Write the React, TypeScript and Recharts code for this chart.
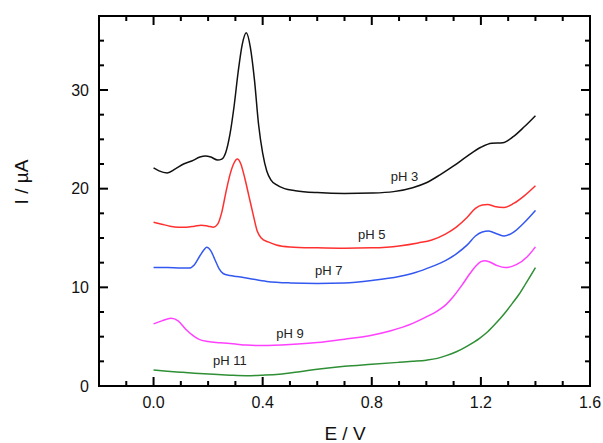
import React from "react";
import { LineChart, Line, XAxis, YAxis, ReferenceDot } from "recharts";

// plot frame in page pixels (chart sits at the page's top-left corner)
const TOP = 16;
const BOTTOM = 386;
const LEFT = 99;
const RIGHT = 590;

const xTicks = [-0.2, -0.1, 0, 0.1, 0.2, 0.3, 0.4, 0.5, 0.6, 0.7, 0.8, 0.9, 1.0, 1.1, 1.2, 1.3, 1.4, 1.5, 1.6];
const xMajor = [0, 0.4, 0.8, 1.2, 1.6];
const yTicks = [0, 2.5, 5, 7.5, 10, 12.5, 15, 17.5, 20, 22.5, 25, 27.5, 30, 32.5, 35, 37.5];
const yMajor = [0, 10, 20, 30];

// pH 3
const eBlack = [0, 0.02, 0.05, 0.08, 0.11, 0.14, 0.17, 0.19, 0.21, 0.235, 0.25, 0.265, 0.28, 0.295, 0.31, 0.325, 0.34, 0.355, 0.37, 0.385, 0.4, 0.415, 0.43, 0.45, 0.48, 0.52, 0.6, 0.7, 0.8, 0.88, 0.95, 1.0, 1.05, 1.1, 1.15, 1.2, 1.24, 1.28, 1.32, 1.36, 1.4];
const iBlack = [22.1, 21.8, 21.6, 22.0, 22.5, 22.8, 23.2, 23.3, 23.2, 22.9, 23.0, 23.7, 25.5, 28.3, 31.8, 34.6, 35.8, 34.3, 31.0, 26.5, 23.6, 21.8, 20.9, 20.4, 20.0, 19.8, 19.6, 19.5, 19.55, 19.7, 20.1, 20.6, 21.4, 22.3, 23.3, 24.2, 24.6, 24.65, 25.3, 26.3, 27.4];

// pH 5
const eRed = [0, 0.03, 0.06, 0.09, 0.12, 0.15, 0.175, 0.2, 0.22, 0.235, 0.25, 0.265, 0.28, 0.295, 0.307, 0.32, 0.335, 0.35, 0.365, 0.38, 0.395, 0.42, 0.45, 0.5, 0.6, 0.7, 0.8, 0.9, 0.97, 1.02, 1.07, 1.11, 1.15, 1.18, 1.205, 1.225, 1.25, 1.285, 1.32, 1.36, 1.4];
const iRed = [16.6, 16.4, 16.2, 16.1, 16.1, 16.2, 16.3, 16.2, 16.1, 16.4, 17.6, 19.6, 21.4, 22.6, 23.0, 22.5, 21.0, 19.2, 17.4, 15.7, 15.0, 14.6, 14.3, 14.1, 14.0, 13.95, 14.0, 14.2, 14.5, 14.8, 15.4, 16.1, 17.1, 18.0, 18.35, 18.4, 18.2, 18.1, 18.5, 19.3, 20.3];

// pH 7
const eBlue = [0, 0.05, 0.1, 0.13, 0.15, 0.17, 0.185, 0.195, 0.21, 0.225, 0.24, 0.255, 0.28, 0.305, 0.35, 0.415, 0.5, 0.6, 0.7, 0.8, 0.9, 0.96, 1.02, 1.07, 1.11, 1.15, 1.18, 1.205, 1.228, 1.26, 1.285, 1.32, 1.36, 1.4];
const iBlue = [12.0, 12.0, 11.95, 11.95, 12.3, 13.2, 13.8, 14.05, 13.7, 12.8, 11.9, 11.4, 11.2, 11.1, 10.9, 10.6, 10.45, 10.4, 10.45, 10.7, 11.1, 11.5, 12.1, 12.7, 13.4, 14.3, 15.2, 15.6, 15.7, 15.4, 15.2, 15.6, 16.6, 17.8];

// pH 9
const eMagenta = [0, 0.03, 0.064, 0.09, 0.12, 0.145, 0.165, 0.2, 0.244, 0.3, 0.34, 0.4, 0.5, 0.6, 0.7, 0.8, 0.87, 0.95, 1.0, 1.04, 1.07, 1.1, 1.13, 1.16, 1.18, 1.2, 1.215, 1.23, 1.26, 1.29, 1.33, 1.37, 1.4];
const iMagenta = [6.3, 6.6, 6.86, 6.6, 5.7, 5.1, 4.75, 4.5, 4.39, 4.25, 4.15, 4.1, 4.2, 4.4, 4.75, 5.15, 5.6, 6.35, 7.0, 7.6, 8.2, 9.1, 10.2, 11.4, 12.1, 12.6, 12.7, 12.6, 12.2, 12.0, 12.3, 13.1, 14.1];

// pH 11
const eGreen = [0, 0.05, 0.1, 0.15, 0.22, 0.28, 0.34, 0.4, 0.46, 0.536, 0.6, 0.7, 0.8, 0.9, 0.95, 1.0, 1.04, 1.07, 1.11, 1.15, 1.195, 1.225, 1.255, 1.285, 1.316, 1.34, 1.365, 1.4];
const iGreen = [1.62, 1.5, 1.4, 1.3, 1.18, 1.1, 1.05, 1.1, 1.19, 1.45, 1.7, 2.0, 2.2, 2.4, 2.5, 2.62, 2.8, 3.05, 3.47, 4.05, 4.83, 5.5, 6.35, 7.3, 8.4, 9.3, 10.4, 12.0];

const series = [
  { name: "pH 3", e: eBlack, i: iBlack, color: "#111111", lx: 0.92, ly: 21.2 },
  { name: "pH 5", e: eRed, i: iRed, color: "#ff3030", lx: 0.8, ly: 15.4 },
  { name: "pH 7", e: eBlue, i: iBlue, color: "#3358f0", lx: 0.642, ly: 11.75 },
  { name: "pH 9", e: eMagenta, i: iMagenta, color: "#ff40ff", lx: 0.5, ly: 5.37 },
  { name: "pH 11", e: eGreen, i: iGreen, color: "#2f8f35", lx: 0.28, ly: 2.63 },
];

const isIn = (list: number[], v: number) => list.some((m) => Math.abs(m - v) < 1e-6);

// inward ticks on bottom and top edges, label only on majors
const XTick = (props: any) => {
  const { x, payload } = props;
  const v = payload.value;
  const major = isIn(xMajor, v);
  const len = major ? 9 : 5;
  return (
    <g>
      <rect x={x - 1} y={BOTTOM - len} width={2} height={len} fill="#000" />
      <rect x={x - 1} y={TOP} width={2} height={len} fill="#000" />
      {major && (
        <text x={x} y={BOTTOM + 22} textAnchor="middle" fontSize={16} fill="#111">
          {v.toFixed(1)}
        </text>
      )}
    </g>
  );
};

// inward ticks on left and right edges
const YTick = (props: any) => {
  const { y, payload } = props;
  const v = payload.value;
  const major = isIn(yMajor, v);
  const len = major ? 9 : 5;
  return (
    <g>
      <rect x={LEFT} y={y - 1} width={len} height={2} fill="#000" />
      <rect x={RIGHT - len} y={y - 1} width={len} height={2} fill="#000" />
      {major && (
        <text x={LEFT - 10} y={y} dy="0.36em" textAnchor="end" fontSize={16} fill="#111">
          {v}
        </text>
      )}
    </g>
  );
};

const App = () => {
  return (
    <div
      style={{
        position: "absolute",
        left: 0,
        top: 0,
        width: 603,
        height: 443,
        overflow: "hidden",
        fontFamily: "'Liberation Sans', Arial, sans-serif",
      }}
    >
      <LineChart width={603} height={443} margin={{ top: TOP, right: 603 - RIGHT, bottom: 0, left: LEFT - 60 }}>
        <XAxis
          type="number"
          dataKey="e"
          domain={[-0.2, 1.6]}
          ticks={xTicks}
          interval={0}
          allowDataOverflow
          height={57}
          axisLine={{ stroke: "#000", strokeWidth: 2 }}
          tickLine={false}
          tickSize={0}
          tickMargin={0}
          tick={<XTick />}
        />
        <YAxis
          type="number"
          dataKey="i"
          domain={[0, 37.5]}
          ticks={yTicks}
          interval={0}
          allowDataOverflow
          width={60}
          axisLine={{ stroke: "#000", strokeWidth: 2 }}
          tickLine={false}
          tickSize={0}
          tickMargin={0}
          tick={<YTick />}
        />
        {series.map((s) => (
          <Line
            key={s.name}
            data={s.e.map((e, k) => ({ e, i: s.i[k] }))}
            dataKey="i"
            type="monotone"
            stroke={s.color}
            strokeWidth={1.5}
            dot={false}
            isAnimationActive={false}
          />
        ))}
        {series.map((s) => (
          <ReferenceDot
            key={"lbl-" + s.name}
            x={s.lx}
            y={s.ly}
            r={0}
            fill="none"
            stroke="none"
            label={{ value: s.name, position: "center", fontSize: 13, fill: "#222" }}
          />
        ))}
        <text x={345} y={440} textAnchor="middle" fontSize={19} fill="#111">
          E / V
        </text>
        <text x={28} y={182} textAnchor="middle" fontSize={19} fill="#111" transform="rotate(-90 28 182)">
          I / µA
        </text>
        {/* box frame, drawn last so nothing covers it */}
        <rect x={LEFT - 1} y={TOP - 1} width={RIGHT - LEFT + 2} height={2} fill="#000" />
        <rect x={LEFT - 1} y={BOTTOM - 1} width={RIGHT - LEFT + 2} height={2} fill="#000" />
        <rect x={LEFT - 1} y={TOP - 1} width={2} height={BOTTOM - TOP + 2} fill="#000" />
        <rect x={RIGHT - 1} y={TOP - 1} width={2} height={BOTTOM - TOP + 2} fill="#000" />
      </LineChart>
    </div>
  );
};

export default App;
